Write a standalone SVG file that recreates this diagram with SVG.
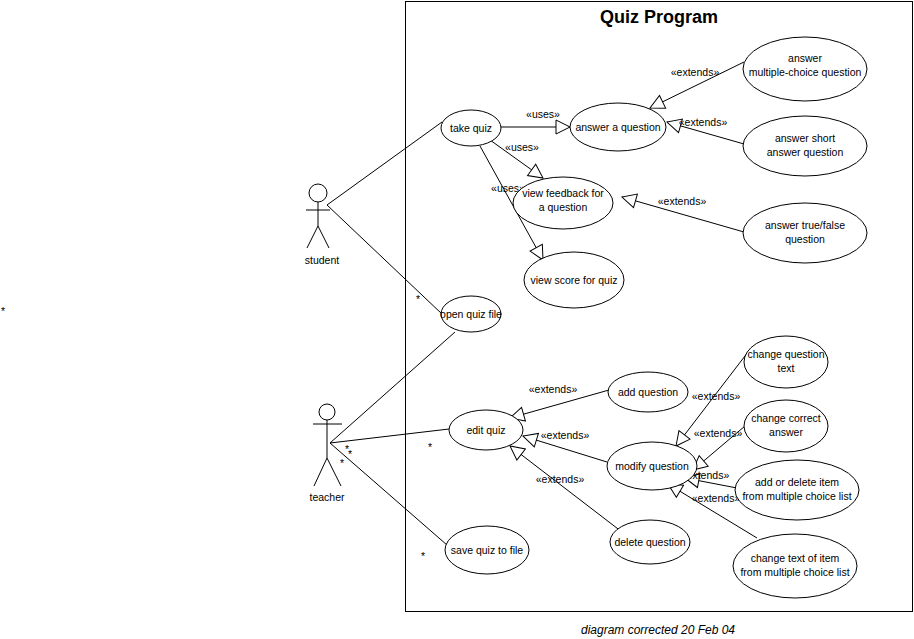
<svg xmlns="http://www.w3.org/2000/svg" width="914" height="639" viewBox="0 0 914 639">
<style>
text{font-family:"Liberation Sans",Arial,sans-serif;font-size:10.5px;fill:#000;text-anchor:middle}
ellipse{fill:#fff;stroke:#000;stroke-width:1}
.c line{stroke:#000;stroke-width:1}
</style>
<defs>
<marker id="tri" viewBox="0 0 16 16" refX="15" refY="8" markerWidth="16" markerHeight="16" markerUnits="userSpaceOnUse" orient="auto">
<path d="M1,1 L15,8 L1,15 Z" fill="#fff" stroke="#000"/>
</marker>
</defs>
<rect x="405.5" y="1.5" width="507" height="610" fill="#fff" stroke="#000"/>
<text x="659" y="23" style="font-size:18px;font-weight:bold">Quiz Program</text>
<g class="c">
<line x1="327" y1="205" x2="442" y2="122"/>
<line x1="327" y1="205" x2="442" y2="314"/>
<line x1="330" y1="443" x2="455" y2="332"/>
<line x1="330" y1="443" x2="449" y2="429"/>
<line x1="330" y1="443" x2="447" y2="545"/>
<line x1="501" y1="127" x2="570" y2="127" marker-end="url(#tri)"/>
<line x1="490" y1="140" x2="543" y2="178" marker-end="url(#tri)"/>
<line x1="480" y1="146" x2="543" y2="260" marker-end="url(#tri)"/>
<line x1="744" y1="62" x2="650" y2="108" marker-end="url(#tri)"/>
<line x1="744" y1="144" x2="667" y2="122" marker-end="url(#tri)"/>
<line x1="744" y1="232" x2="622" y2="197" marker-end="url(#tri)"/>
<line x1="609" y1="390" x2="510" y2="418" marker-end="url(#tri)"/>
<line x1="607" y1="462" x2="523" y2="436" marker-end="url(#tri)"/>
<line x1="622" y1="532" x2="510" y2="446" marker-end="url(#tri)"/>
<line x1="748" y1="352" x2="676" y2="446" marker-end="url(#tri)"/>
<line x1="745" y1="426" x2="693" y2="470" marker-end="url(#tri)"/>
<line x1="737" y1="488" x2="685" y2="478" marker-end="url(#tri)"/>
<line x1="757" y1="538" x2="668" y2="484" marker-end="url(#tri)"/>
</g>
<g id="labels">
<text x="543" y="118">«uses»</text>
<text x="522" y="151">«uses»</text>
<text x="508" y="192">«uses»</text>
<text x="695" y="76">«extends»</text>
<text x="703" y="126">«extends»</text>
<text x="682" y="205">«extends»</text>
<text x="553" y="393">«extends»</text>
<text x="716" y="400">«extends»</text>
<text x="565" y="439">«extends»</text>
<text x="718" y="437">«extends»</text>
<text x="560" y="483">«extends»</text>
<text x="705" y="479">«extends»</text>
<text x="716" y="502">«extends»</text>
<text x="418" y="303">*</text>
<text x="347" y="453">*</text>
<text x="350" y="458">*</text>
<text x="342" y="467">*</text>
<text x="430" y="451">*</text>
<text x="423" y="560">*</text>
<text x="3" y="315">*</text>
</g>
<g id="student" fill="none" stroke="#000">
<circle cx="318" cy="193" r="9"/>
<line x1="306" y1="210" x2="330" y2="210"/>
<line x1="318" y1="202" x2="318" y2="226"/>
<line x1="318" y1="226" x2="307" y2="248"/>
<line x1="318" y1="226" x2="329" y2="248"/>
<text x="322" y="264" stroke="none">student</text>
</g>
<g id="teacher" fill="none" stroke="#000">
<circle cx="327" cy="412" r="8"/>
<line x1="313" y1="424" x2="342" y2="424"/>
<line x1="327" y1="420" x2="327" y2="458"/>
<line x1="327" y1="458" x2="314" y2="486"/>
<line x1="327" y1="458" x2="341" y2="486"/>
<text x="327" y="501" stroke="none">teacher</text>
</g>
<g id="take"><ellipse cx="471" cy="128" rx="30" ry="18"/><text x="471" y="132">take quiz</text></g>
<g id="answer"><ellipse cx="618" cy="127" rx="48" ry="24"/><text x="618" y="131">answer a question</text></g>
<g id="mc"><ellipse cx="805" cy="69" rx="62" ry="32"/><text x="805" y="62">answer</text><text x="805" y="76">multiple-choice question</text></g>
<g id="short"><ellipse cx="805" cy="146" rx="62" ry="30"/><text x="805" y="142">answer short</text><text x="805" y="156">answer question</text></g>
<g id="feedback"><ellipse cx="563" cy="203" rx="50" ry="26"/><text x="563" y="197">view feedback for</text><text x="563" y="211">a question</text></g>
<g id="tf"><ellipse cx="805" cy="233" rx="62" ry="30"/><text x="805" y="229">answer true/false</text><text x="805" y="243">question</text></g>
<g id="score"><ellipse cx="574" cy="280" rx="50" ry="28"/><text x="574" y="284">view score for quiz</text></g>
<g id="open"><ellipse cx="471" cy="314" rx="30" ry="18"/><text x="471" y="318">open quiz file</text></g>
<g id="edit"><ellipse cx="486" cy="430" rx="37" ry="20"/><text x="486" y="434">edit quiz</text></g>
<g id="add"><ellipse cx="648" cy="392" rx="40" ry="20"/><text x="648" y="396">add question</text></g>
<g id="modify"><ellipse cx="652" cy="466" rx="45" ry="24"/><text x="652" y="470">modify question</text></g>
<g id="delete"><ellipse cx="650" cy="542" rx="40" ry="22"/><text x="650" y="546">delete question</text></g>
<g id="cqt"><ellipse cx="786" cy="362" rx="42" ry="26"/><text x="786" y="358">change question</text><text x="786" y="372">text</text></g>
<g id="cca"><ellipse cx="786" cy="426" rx="42" ry="26"/><text x="786" y="422">change correct</text><text x="786" y="436">answer</text></g>
<g id="adi"><ellipse cx="797" cy="490" rx="62" ry="30"/><text x="797" y="486">add or delete item</text><text x="797" y="500">from multiple choice list</text></g>
<g id="cti"><ellipse cx="795" cy="566" rx="62" ry="32"/><text x="795" y="562">change text of item</text><text x="795" y="576">from multiple choice list</text></g>
<g id="save"><ellipse cx="487" cy="550" rx="42" ry="24"/><text x="487" y="554">save quiz to file</text></g>
<text x="658" y="634" style="font-style:italic;font-size:12px">diagram corrected 20 Feb 04</text>
</svg>
